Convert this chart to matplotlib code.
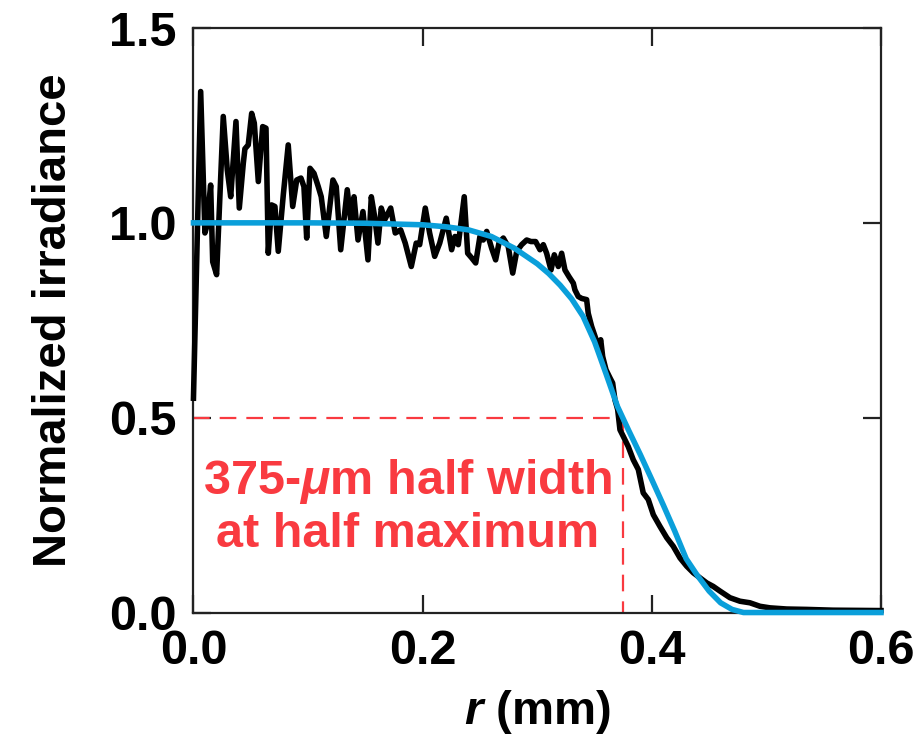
import matplotlib
matplotlib.use("Agg")
import matplotlib.pyplot as plt

plt.rcParams['font.family'] = ['Liberation Sans', 'DejaVu Sans']
plt.rcParams['font.weight'] = 'bold'
plt.rcParams['mathtext.fontset'] = 'custom'
plt.rcParams['mathtext.rm'] = 'Liberation Sans:bold'
plt.rcParams['mathtext.it'] = 'Liberation Sans:italic:bold'
plt.rcParams['mathtext.bf'] = 'Liberation Sans:bold'

# Measured irradiance profile (black)
meas_r = [0.0000, 0.0063, 0.0100, 0.0115, 0.0150, 0.0168, 0.0202, 0.0260, 0.0295, 0.0325,
          0.0371, 0.0400, 0.0435, 0.0449, 0.0478, 0.0508, 0.0531, 0.0566, 0.0604, 0.0633,
          0.0653, 0.0682, 0.0711, 0.0740, 0.0784, 0.0827, 0.0866, 0.0901, 0.0938, 0.0964,
          0.0988, 0.1017, 0.1052, 0.1089, 0.1115, 0.1159, 0.1217, 0.1246, 0.1285, 0.1342,
          0.1372, 0.1401, 0.1436, 0.1479, 0.1523, 0.1552, 0.1581, 0.1610, 0.1639, 0.1669,
          0.1721, 0.1761, 0.1808, 0.1848, 0.1901, 0.1944, 0.1974, 0.2023, 0.2061, 0.2105,
          0.2149, 0.2206, 0.2253, 0.2282, 0.2311, 0.2363, 0.2393, 0.2428, 0.2463, 0.2500,
          0.2529, 0.2559, 0.2602, 0.2637, 0.2666, 0.2704, 0.2747, 0.2786, 0.2821, 0.2864,
          0.2908, 0.2945, 0.2986, 0.3024, 0.3053, 0.3082, 0.3120, 0.3149, 0.3184, 0.3213,
          0.3242, 0.3277, 0.3315, 0.3329, 0.3358, 0.3388, 0.3431, 0.3445, 0.3475, 0.3504,
          0.3533, 0.3554, 0.3571, 0.3600, 0.3635, 0.3658, 0.3678, 0.3702, 0.3722, 0.3751,
          0.3794, 0.3838, 0.3882, 0.3925, 0.3969, 0.4013, 0.4071, 0.4130, 0.4187, 0.4246,
          0.4304, 0.4362, 0.4420, 0.4479, 0.4536, 0.4595, 0.4682, 0.4769, 0.4856, 0.4944,
          0.5031, 0.5177, 0.5351, 0.5581, 0.6000]
meas_i = [0.550, 1.337, 0.974, 0.990, 1.097, 0.900, 0.867, 1.273, 1.136, 1.067,
          1.260, 1.038, 1.153, 1.190, 1.200, 1.281, 1.256, 1.106, 1.247, 1.243,
          0.922, 1.046, 1.042, 0.927, 1.072, 1.200, 1.042, 1.110, 1.115, 1.093,
          0.961, 1.140, 1.127, 1.093, 1.067, 0.965, 1.110, 1.093, 0.931, 1.085,
          1.008, 1.067, 0.956, 1.029, 0.905, 1.067, 1.016, 0.948, 1.038, 1.008,
          1.038, 0.974, 0.982, 0.948, 0.888, 0.948, 0.944, 1.038, 0.974, 0.914,
          0.948, 1.012, 0.931, 0.965, 0.944, 1.067, 0.922, 0.910, 0.897, 0.965,
          0.956, 0.978, 0.935, 0.905, 0.948, 0.961, 0.939, 0.871, 0.927, 0.944,
          0.956, 0.952, 0.952, 0.931, 0.944, 0.922, 0.879, 0.918, 0.888, 0.922,
          0.879, 0.862, 0.845, 0.828, 0.811, 0.806, 0.803, 0.768, 0.734, 0.709,
          0.683, 0.700, 0.657, 0.623, 0.602, 0.589, 0.546, 0.521, 0.469, 0.452,
          0.426, 0.392, 0.367, 0.307, 0.290, 0.251, 0.221, 0.192, 0.170, 0.140,
          0.119, 0.102, 0.089, 0.076, 0.067, 0.055, 0.038, 0.029, 0.025, 0.016,
          0.012, 0.009, 0.008, 0.006, 0.005]

# Fitted flat-top profile (blue)
fit_r = [0.00, 0.10, 0.15, 0.20, 0.22, 0.24, 0.26, 0.28, 0.30, 0.31, 0.32, 0.33, 0.34,
         0.35, 0.36, 0.37, 0.38, 0.39, 0.40, 0.41, 0.42, 0.43, 0.44, 0.45, 0.46, 0.47,
         0.48, 0.60]
fit_i = [1.000, 1.000, 0.999, 0.995, 0.990, 0.982, 0.965, 0.935, 0.895, 0.870, 0.840,
         0.805, 0.760, 0.695, 0.613, 0.529, 0.466, 0.405, 0.341, 0.276, 0.209, 0.138,
         0.094, 0.055, 0.025, 0.008, 0.000, 0.000]

hwhm = 0.375
half = 0.5
xticks = [0.0, 0.2, 0.4, 0.6]
yticks = [0.0, 0.5, 1.0, 1.5]

fig = plt.figure(figsize=(9.16, 7.43), dpi=100)
ax = fig.add_axes([0.2112, 0.1756, 0.7506, 0.7867])

red = '#F93A40'
ax.plot([0, hwhm, hwhm], [half, half, 0], color=red, lw=1.6,
        dashes=(7.5, 4.5), zorder=2, clip_on=False)
ax.plot(meas_r, meas_i, color='black', lw=4.0, zorder=3, clip_on=False,
        solid_joinstyle='round')
ax.plot(fit_r, fit_i, color='#0A9FDA', lw=4.0, zorder=4, clip_on=False)

ax.text(0.187, 0.336, '375-$\\mu$m half width', color=red, fontsize=35,
        fontweight='bold', ha='center', va='center')
ax.text(0.187, 0.20, 'at half maximum', color=red, fontsize=35,
        fontweight='bold', ha='center', va='center')

ax.set_xlim(0, 0.6)
ax.set_ylim(0, 1.5)
ax.set_xticks(xticks)
ax.set_yticks(yticks)
ax.set_xticklabels([f'{v:.1f}' for v in xticks])
ax.set_yticklabels([f'{v:.1f}' for v in yticks])
ax.tick_params(direction='in', length=13, width=1.6, top=True, right=True,
               labelsize=35, pad=12, color='#222222')
for lab in ax.get_xticklabels() + ax.get_yticklabels():
    lab.set_fontweight('bold')
for s in ax.spines.values():
    s.set_linewidth(1.6)
    s.set_color('#222222')

ax.set_xlabel('$\\mathit{r}$ (mm)', fontsize=34, fontweight='bold', labelpad=10)
ax.set_ylabel('Normalized irradiance', fontsize=34, fontweight='bold', labelpad=24)

fig.savefig('out.png', dpi=100)
